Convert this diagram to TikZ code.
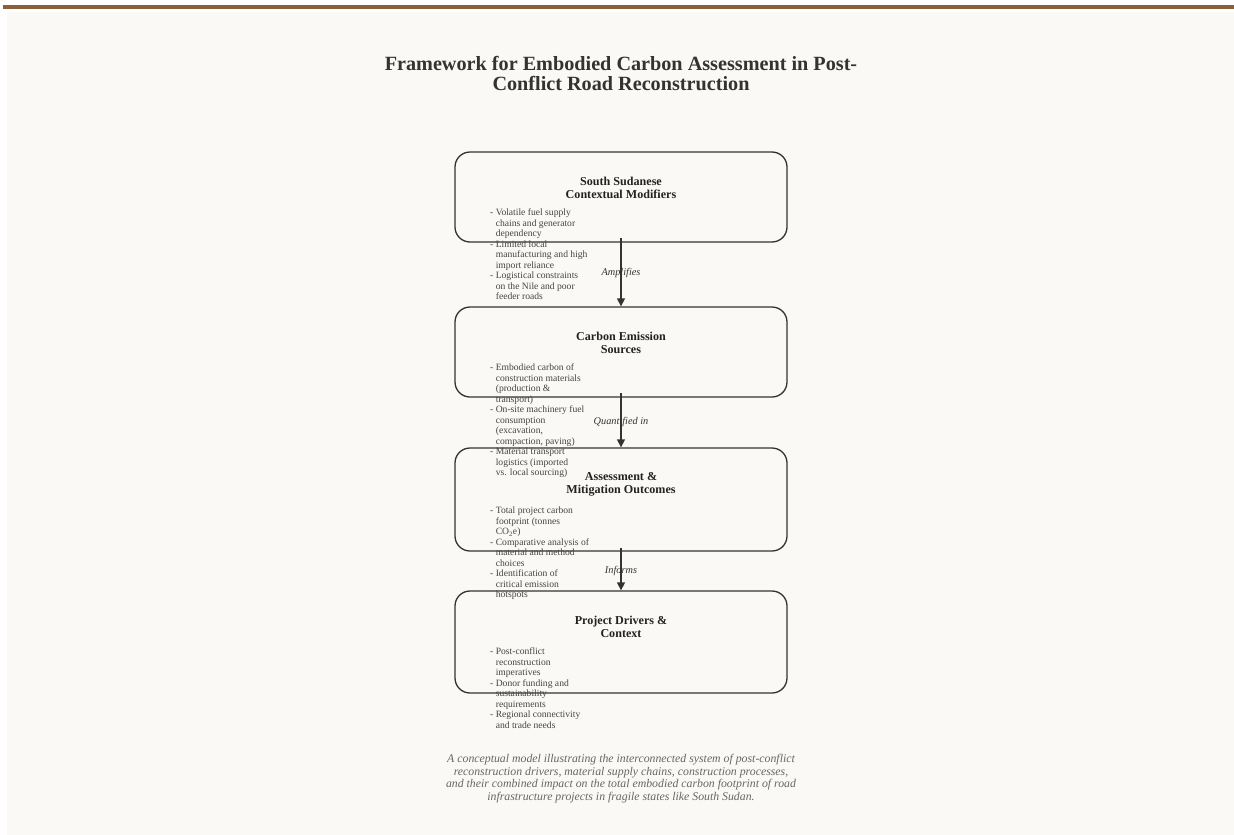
\documentclass[tikz,border=0pt]{standalone}
\usepackage{fontspec}
\setmainfont{Liberation Serif}
\usetikzlibrary{arrows.meta}
\definecolor{bgc}{HTML}{FAF9F5}
\definecolor{barc}{HTML}{8B5E3C}
\definecolor{c333}{HTML}{333333}
\definecolor{c222}{HTML}{222222}
\definecolor{c444}{HTML}{444444}
\definecolor{c666}{HTML}{666666}
\tikzset{
  box/.style={draw=c333, line width=1.3pt, rounded corners=15pt, minimum width=332pt, inner sep=0pt},
  ttl/.style={font=\bfseries\fontsize{12.1}{13}\selectfont, align=center, text=c222, inner sep=0pt},
  bul/.style={font=\fontsize{9.6}{10.5}\selectfont, align=left, anchor=north west, inner sep=0pt, text=c444},
  lab/.style={font=\itshape\fontsize{10.3}{12}\selectfont, text=c333, inner sep=0pt},
  conn/.style={draw=c333, line width=1.3pt, -{Triangle[length=8pt,width=8pt]}}
}
\newcommand{\ind}{\hphantom{- }}
\begin{document}
\begin{tikzpicture}[x=1pt,y=-1pt]
\useasboundingbox (0,0) rectangle (1234,835);
\fill[white] (0,0) rectangle (1234,835);
\fill[bgc] (7,12) rectangle (1234,835);
\fill[barc] (3,5) rectangle (1234,9);
% title
\node[font=\bfseries\fontsize{20.2}{20}\selectfont, text=c333, align=center] (title) at (621,74) {Framework for Embodied Carbon Assessment in Post-\\Conflict Road Reconstruction};
% boxes
\node[box, minimum height=90pt] (b1) at (621,197) {};
\node[box, minimum height=90pt] (b2) at (621,352) {};
\node[box, minimum height=103pt] (b3) at (621,499.5) {};
\node[box, minimum height=102pt] (b4) at (621,642) {};
% titles
\node[ttl] (t1) at (621,188) {South Sudanese\\Contextual Modifiers};
\node[ttl] (t2) at (621,342.5) {Carbon Emission\\Sources};
\node[ttl] (t3) at (621,484.5) {Assessment \&\\Mitigation Outcomes};
\node[ttl] (t4) at (621,626.5) {Project Drivers \&\\Context};
% bullets
\node[bul] (l1) at (490,209) {- Volatile fuel supply\\\ind chains and generator\\\ind dependency\\- Limited local\\\ind manufacturing and high\\\ind import reliance\\- Logistical constraints\\\ind on the Nile and poor\\\ind feeder roads};
\node[bul] (l2) at (490,364) {- Embodied carbon of\\\ind construction materials\\\ind (production \&\\\ind transport)\\- On-site machinery fuel\\\ind consumption\\\ind (excavation,\\\ind compaction, paving)\\- Material transport\\\ind logistics (imported\\\ind vs. local sourcing)};
\node[bul] (l3) at (490,507) {- Total project carbon\\\ind footprint (tonnes\\\ind CO\textsubscript{2}e)\\- Comparative analysis of\\\ind material and method\\\ind choices\\- Identification of\\\ind critical emission\\\ind hotspots};
\node[bul] (l4) at (490,648) {- Post-conflict\\\ind reconstruction\\\ind imperatives\\- Donor funding and\\\ind sustainability\\\ind requirements\\- Regional connectivity\\\ind and trade needs};
% connectors
\draw[conn] (621,238) -- (b2.north);
\draw[conn] (621,393) -- (b3.north);
\draw[conn] (621,548) -- (b4.north);
\node[lab] (e1) at (621,273) {Amplifies};
\node[lab] (e2) at (621,422) {Quantified in};
\node[lab] (e3) at (621,571) {Informs};
% caption
\node[font=\itshape\fontsize{11.8}{12.8}\selectfont, text=c666, align=center] (cap) at (621,778.5) {A conceptual model illustrating the interconnected system of post-conflict\\reconstruction drivers, material supply chains, construction processes,\\and their combined impact on the total embodied carbon footprint of road\\infrastructure projects in fragile states like South Sudan.};
\end{tikzpicture}
\end{document}
